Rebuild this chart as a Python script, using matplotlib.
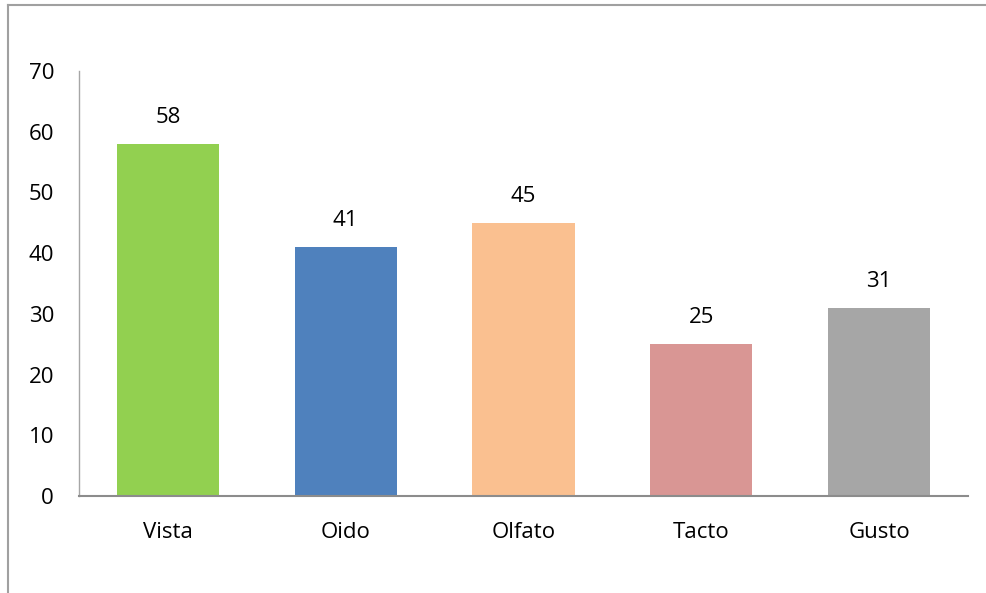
import matplotlib
matplotlib.use("Agg")
import matplotlib.pyplot as plt
from matplotlib.lines import Line2D

OUTFILE = "out.png"

CATEGORIES = ["Vista", "Oido", "Olfato", "Tacto", "Gusto"]
VALUES = [58, 41, 45, 25, 31]
BAR_COLORS = ["#92D050", "#4F81BD", "#FAC090", "#D99694", "#A6A6A6"]
Y_TICKS = [0, 10, 20, 30, 40, 50, 60, 70]

FONT = "Open Sans"
FS = 16
AXIS_GREY = "#8C8C8C"

fig = plt.figure(figsize=(9.87, 5.93), dpi=100)
ax = fig.add_axes([79 / 987, 97 / 593, 889 / 987, 425 / 593])

x = range(len(CATEGORIES))
bars = ax.bar(x, VALUES, width=0.575, color=BAR_COLORS)
for xi, v in zip(x, VALUES):
    ax.text(xi, v + 4.4, str(v), ha="center", va="center",
            fontsize=FS, family=FONT, color="black")

ax.set_xlim(-0.5, len(CATEGORIES) - 0.5)
ax.set_ylim(0, 70)
ax.set_yticks(Y_TICKS)
ax.set_xticks(list(x))
ax.set_xticklabels(CATEGORIES)
ax.tick_params(length=0, labelsize=FS)
ax.tick_params(axis="y", pad=18)
ax.tick_params(axis="x", pad=19)
for lbl in ax.get_xticklabels() + ax.get_yticklabels():
    lbl.set_family(FONT)

for side in ["top", "right"]:
    ax.spines[side].set_visible(False)
ax.spines["bottom"].set_color(AXIS_GREY)
ax.spines["bottom"].set_linewidth(1.5)
ax.spines["left"].set_color("#A6A6A6")
ax.spines["left"].set_linewidth(1.0)

# outer chart frame (only top and left visible in the crop)
fig.add_artist(Line2D([8 / 987, 8 / 987], [0, 1 - 5 / 593],
                      transform=fig.transFigure, color="#A0A0A0", lw=1.5))
fig.add_artist(Line2D([8 / 987, 1], [1 - 5 / 593, 1 - 5 / 593],
                      transform=fig.transFigure, color="#A0A0A0", lw=1.5))

fig.savefig(OUTFILE, dpi=100)
